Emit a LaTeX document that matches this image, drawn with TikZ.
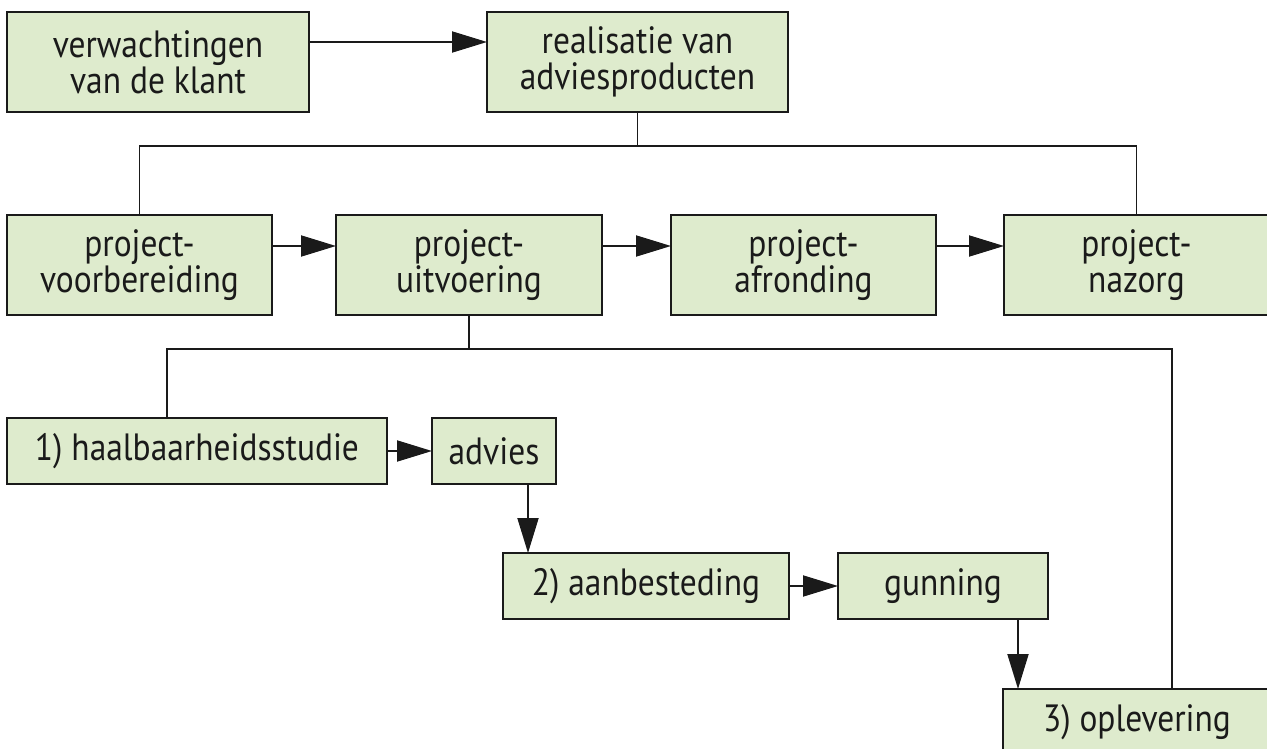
\documentclass[tikz,border=0pt]{standalone}
\usepackage{fontspec}
\setmainfont{PT Sans}[FakeStretch=0.88]
\usetikzlibrary{arrows.meta,calc}
\definecolor{boxfill}{RGB}{222,235,205}
\definecolor{ink}{RGB}{26,26,26}
\tikzset{
  box/.style={draw=ink, fill=boxfill, line width=1.9pt, inner sep=0pt, outer sep=0pt,
    align=center, text=ink, font=\fontsize{38}{36}\selectfont},
  conn/.style={draw=ink, line width=1.9pt},
  arr/.style={conn, -{Triangle[length=35pt,width=21pt]}}
}
\begin{document}
\begin{tikzpicture}[x=1pt,y=-1pt]
\useasboundingbox (0,0) rectangle (1267,749);
\clip (0,0) rectangle (1267,749);
% top row
\node[box, minimum width=302pt, minimum height=100pt] (verw) at (158,62) {verwachtingen\\van de klant};
\node[box, minimum width=301pt, minimum height=100pt] (real) at (637.5,62) {realisatie van\\adviesproducten};
% middle row
\node[box, minimum width=265pt, minimum height=100pt] (voorb) at (139.5,265) {project-\\voorbereiding};
\node[box, minimum width=266pt, minimum height=100pt] (uitv) at (469,265) {project-\\uitvoering};
\node[box, minimum width=265pt, minimum height=100pt] (afr) at (803.5,265) {project-\\afronding};
\node[box, minimum width=265pt, minimum height=100pt] (naz) at (1136.5,265) {project-\\nazorg};
% bottom rows
\node[box, minimum width=380pt, minimum height=66pt] (haal) at (197,451) {1) haalbaarheidsstudie};
\node[box, minimum width=124pt, minimum height=66pt] (adv) at (494,451) {advies};
\node[box, minimum width=286pt, minimum height=66pt] (aanb) at (646,586) {2) aanbesteding};
\node[box, minimum width=210pt, minimum height=66pt] (gun) at (943,586) {gunning};
\node[box, minimum width=268pt, minimum height=66pt] (opl) at (1137,722) {3) oplevering};
% tree 1
\coordinate (t1) at (637,146);
\draw[conn] (real.south) -- (real.south |- t1);
\draw[conn] (voorb.north) -- (voorb.north |- t1) -- (naz.north |- t1) -- (naz.north);
% tree 2
\coordinate (t2l) at (167,349);
\coordinate (t2r) at (1172,349);
\draw[conn] (uitv.south) -- (uitv.south |- t2l);
\draw[conn] (t2l |- haal.north) -- (t2l) -- (t2r) -- (t2r |- opl.north);
% arrows
\draw[arr] ([yshift=20pt]verw.east) -- ([yshift=20pt]real.west);
\draw[arr] ([yshift=19pt]voorb.east) -- ([yshift=19pt]uitv.west);
\draw[arr] ([yshift=19pt]uitv.east) -- ([yshift=19pt]afr.west);
\draw[arr] ([yshift=19pt]afr.east) -- ([yshift=19pt]naz.west);
\draw[arr] (haal.east) -- (adv.west);
\draw[arr] ([xshift=34pt]adv.south) -- ([xshift=34pt]adv.south |- aanb.north);
\draw[arr] (aanb.east) -- (gun.west);
\draw[arr] ([xshift=75pt]gun.south) -- ([xshift=75pt]gun.south |- opl.north);
\end{tikzpicture}
\end{document}
